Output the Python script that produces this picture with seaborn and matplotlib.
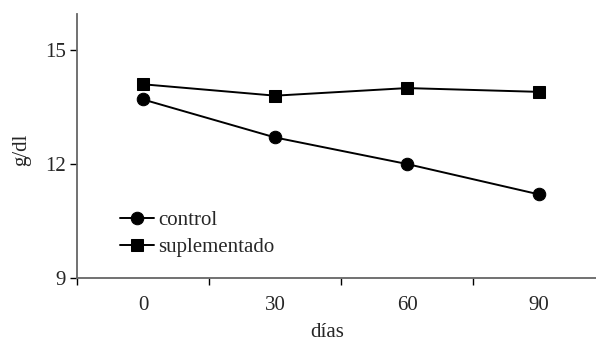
import matplotlib
matplotlib.use("Agg")
import matplotlib.pyplot as plt
import seaborn as sns
import pandas as pd

dias = ["0", "30", "60", "90"]
control = [13.7, 12.7, 12.0, 11.2]
suplementado = [14.1, 13.8, 14.0, 13.9]

df = pd.DataFrame({
    "días": dias * 2,
    "g/dl": control + suplementado,
    "grupo": ["control"] * 4 + ["suplementado"] * 4,
})

sns.set_style("white")
plt.rcParams["font.family"] = ["Liberation Serif", "DejaVu Serif"]

FS = 15
fig = plt.figure(figsize=(5.96, 3.43), dpi=100)
ax = fig.add_axes([77/596, (343-278)/343, (596-77)/596, (278-14)/343])

sns.lineplot(data=df, x="días", y="g/dl", hue="grupo", style="grupo",
             palette=["black", "black"], markers={"control": "o", "suplementado": "s"},
             dashes=False, markersize=9, linewidth=1.4, markeredgecolor="black",
             ax=ax)

ax.set_xlim(-0.5, 3.43)
ax.set_ylim(9, 15.95)
ax.set_yticks([9, 12, 15])
ax.set_xticks([-0.5, 0.5, 1.5, 2.5])
ax.set_xticklabels([])
for i, d in enumerate(dias):
    ax.text(i, -0.07, d, transform=ax.get_xaxis_transform(), ha="center", va="top", fontsize=FS)
ax.tick_params(axis="y", labelsize=FS, length=5, width=1, direction="out", left=True, color="black", pad=3)
ax.tick_params(axis="x", length=5, width=1, direction="out", bottom=True, color="black")

for s in ["top", "right"]:
    ax.spines[s].set_visible(False)
for s in ["left", "bottom"]:
    ax.spines[s].set_color("#666666")
    ax.spines[s].set_linewidth(1.3)

ax.set_ylabel("")
ax.set_xlabel("")
fig.text(22/596, 1 - 150/343, "g/dl", rotation=90, ha="center", va="center", fontsize=FS)
fig.text(327/596, 1/343, "días", ha="center", va="bottom", fontsize=FS)

leg = ax.legend(loc="center left", bbox_to_anchor=(0.066, 0.167), frameon=False, fontsize=FS,
                handlelength=1.65, handletextpad=0.2, labelspacing=0.35, borderaxespad=0)

fig.savefig("out.png", dpi=100)
